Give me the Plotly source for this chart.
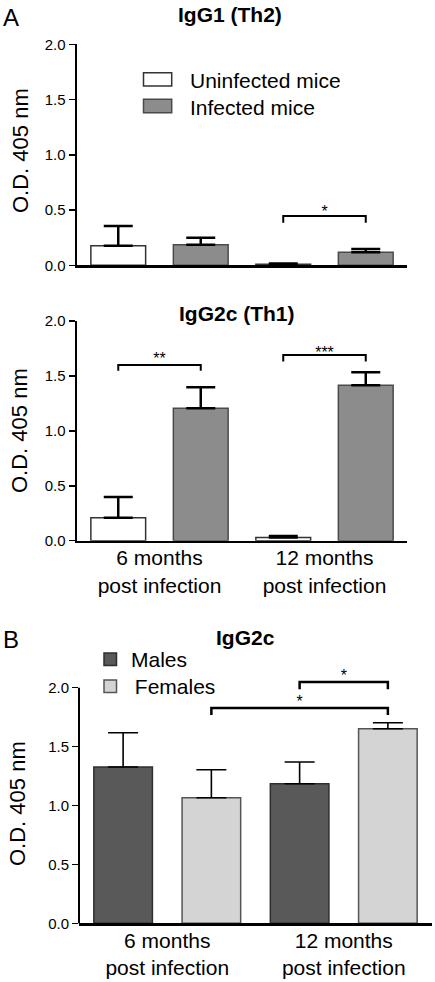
import plotly.graph_objects as go

W, H = 435, 982
FONT = "Liberation Sans, Arial, sans-serif"

# ---------------- data ----------------
groups = [0, 1]
group_labels = ["6 months<br>post infection", "12 months<br>post infection"]

# Panel A top: IgG1 (Th2)
igg1_uninf = [0.177, 0.010]
igg1_uninf_err = [0.179, 0.006]
igg1_inf = [0.187, 0.118]
igg1_inf_err = [0.063, 0.029]

# Panel A bottom: IgG2c (Th1)
igg2c_uninf = [0.21, 0.03]
igg2c_uninf_err = [0.188, 0.013]
igg2c_inf = [1.206, 1.415]
igg2c_inf_err = [0.191, 0.119]

# Panel B: IgG2c by sex
males = [1.327, 1.185]
males_err = [0.291, 0.184]
females = [1.066, 1.652]
females_err = [0.238, 0.051]

yticks = [0, 0.5, 1.0, 1.5, 2.0]

# significance brackets: (x0, x1, y_top, y_drop, label, label_y)
sig_a1 = [(0.75, 1.25, 0.446, 0.386, "*", 0.47)]
sig_a2 = [(-0.25, 0.25, 1.60, 1.546, "**", 1.645),
          (0.75, 1.25, 1.691, 1.631, "***", 1.704)]
sig_b = [(0.25, 1.25, 1.828, 1.768, "*", 1.874),
         (0.75, 1.25, 2.048, 1.987, "*", 2.094)]

# ---------------- helpers ----------------
def px_x(v):
    return v / W

def px_y(v):
    return 1 - v / H

fig = go.Figure()

def add_bar(x, y, err, fill, line, xa, ya, ethick, ewidth, name):
    fig.add_trace(go.Bar(
        x=x, y=y, name=name, xaxis=xa, yaxis=ya,
        marker=dict(color=fill, line=dict(color=line, width=1.5)),
        error_y=dict(type="data", array=err, arrayminus=[0] * len(err), symmetric=False,
                     color="black", thickness=ethick, width=ewidth),
        showlegend=False, hoverinfo="skip",
    ))

def add_sig(items, xa, ya, lw):
    for (x0, x1, yt, yd, lab, ly) in items:
        fig.add_trace(go.Scatter(
            x=[x0, x0, x1, x1], y=[yd, yt, yt, yd], mode="lines",
            line=dict(color="#000000", width=lw), xaxis=xa, yaxis=ya,
            cliponaxis=False, showlegend=False, hoverinfo="skip"))
        fig.add_trace(go.Scatter(
            x=[(x0 + x1) / 2], y=[ly], mode="text", text=[lab],
            textposition="middle center", textfont=dict(size=16, color="#000000", family=FONT),
            xaxis=xa, yaxis=ya, cliponaxis=False, showlegend=False, hoverinfo="skip"))

WHITE, GREY = "#ffffff", "#8c8c8c"
add_bar(groups, igg1_uninf, igg1_uninf_err, WHITE, "#333333", "x", "y", 2.5, 14.5, "Uninfected mice")
add_bar(groups, igg1_inf, igg1_inf_err, GREY, "#4a4a4a", "x", "y", 2.5, 14.5, "Infected mice")
add_bar(groups, igg2c_uninf, igg2c_uninf_err, WHITE, "#333333", "x2", "y2", 2.5, 14.5, "Uninfected mice")
add_bar(groups, igg2c_inf, igg2c_inf_err, GREY, "#4a4a4a", "x2", "y2", 2.5, 14.5, "Infected mice")
add_bar(groups, males, males_err, "#595959", "#2e2e2e", "x3", "y3", 1.6, 15, "Males")
add_bar(groups, females, females_err, "#d4d4d4", "#555555", "x3", "y3", 1.6, 15, "Females")

add_sig(sig_a1, "x", "y", 2)
add_sig(sig_a2, "x2", "y2", 2)
add_sig(sig_b, "x3", "y3", 2.5)

def xaxis(dom, labels, anchor):
    return dict(domain=dom, anchor=anchor, range=[-0.5, 1.5], showgrid=False, zeroline=False,
                showline=True, linecolor="black", linewidth=2.5, ticks="",
                tickvals=groups, ticktext=group_labels, showticklabels=labels,
                tickfont=dict(size=21, color="black", family=FONT), fixedrange=True,
                ticklabelstandoff=-3, automargin=False)

def yaxis(dom, anchor, lw, top=2.0, line=True):
    return dict(domain=dom, anchor=anchor, range=[0, top], showgrid=False, zeroline=False,
                showline=line, linecolor="black", linewidth=lw, ticks="outside", ticklen=6,
                tickwidth=1.5, tickcolor="black", tickvals=yticks, tickformat=".1f",
                tickfont=dict(size=15, color="black", family=FONT), fixedrange=True,
                automargin=False)

# panel B: extra headroom above 2.0 for the upper bracket
B_TOP = 2.2
b_zero, b_two = 923.3, 687.7
b_top_px = b_zero - (b_zero - b_two) * B_TOP / 2.0

fig.update_layout(
    width=W, height=H, margin=dict(l=0, r=0, t=0, b=0, pad=0, autoexpand=False),
    paper_bgcolor="white", plot_bgcolor="rgba(0,0,0,0)",
    barmode="group", bargap=0.0, bargroupgap=0.336,
    font=dict(family=FONT, color="black"),
    showlegend=False,
    xaxis=xaxis([px_x(77), px_x(407)], False, "y"),
    yaxis=yaxis([px_y(265.3), px_y(44.3)], "x", 2.5),
    xaxis2=xaxis([px_x(77), px_x(407)], True, "y2"),
    yaxis2=yaxis([px_y(540.7), px_y(321)], "x2", 2.5),
    xaxis3=xaxis([px_x(79), px_x(432)], True, "y3"),
    yaxis3=yaxis([px_y(b_zero), px_y(b_top_px)], "x3", 2, top=B_TOP, line=False),
)

anns = []
def ann(text, x, y, size, bold=False, angle=0, xanchor="center"):
    anns.append(dict(text=("<b>%s</b>" % text) if bold else text, x=px_x(x), y=px_y(y),
                     xref="paper", yref="paper", showarrow=False, textangle=angle,
                     xanchor=xanchor, yanchor="middle",
                     font=dict(size=size, color="black", family=FONT)))

ann("A", 11, 18, 24)
ann("B", 11, 639, 24)
ann("IgG1 (Th2)", 230, 15, 21, bold=True)
ann("IgG2c (Th1)", 237, 313, 21, bold=True)
ann("IgG2c", 245, 637, 21, bold=True)
ann("O.D. 405 nm", 20, 151, 22, angle=-90)
ann("O.D. 405 nm", 20, 431, 22, angle=-90)
ann("O.D. 405 nm", 17, 804, 22, angle=-90)
ann("Uninfected mice", 188, 80.5, 21, xanchor="left")
ann("Infected mice", 188, 108, 21, xanchor="left")
ann("Males", 129, 659, 21, xanchor="left")
ann(" Females", 127, 686, 21, xanchor="left")

shapes = []
def box(x0, y0, x1, y1, fill, line):
    shapes.append(dict(type="rect", xref="paper", yref="paper",
                       x0=px_x(x0), x1=px_x(x1), y0=px_y(y1), y1=px_y(y0),
                       fillcolor=fill, line=dict(color=line, width=1.5)))

box(143.5, 72.7, 171.7, 86, WHITE, "#333333")
box(143.5, 99.3, 171.7, 112.7, GREY, "#4a4a4a")
box(104, 653, 116.5, 665.5, "#595959", "#2e2e2e")
box(104, 680, 116.5, 692.5, "#d4d4d4", "#555555")

# panel B y-axis line, drawn only from 0.0 to 2.0
shapes.append(dict(type="line", xref="paper", yref="paper",
                   x0=px_x(79), x1=px_x(79), y0=px_y(b_zero), y1=px_y(b_two),
                   line=dict(color="black", width=2)))

fig.update_layout(annotations=anns, shapes=shapes)
fig.write_html(
    "out.html",
    config={"displayModeBar": False, "staticPlot": True},
    post_script="document.body.style.margin='0';document.body.style.overflow='hidden';",
)
